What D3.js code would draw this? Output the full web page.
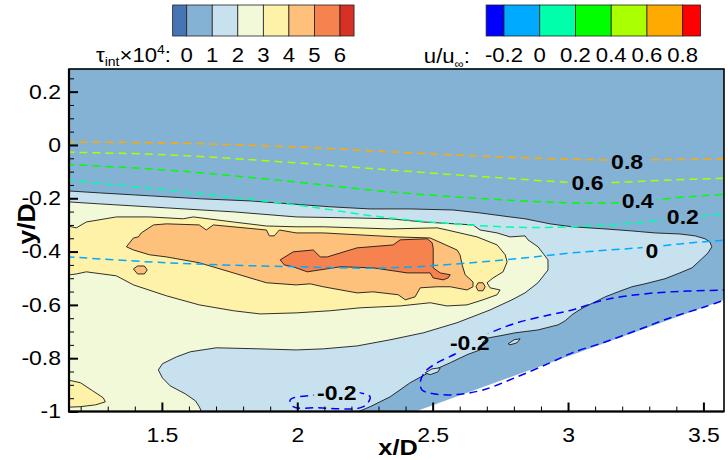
<!DOCTYPE html>
<html>
<head>
<meta charset="utf-8">
<script src="https://cdn.jsdelivr.net/npm/d3@7"></script>
<style>
body { margin: 0; background: #fff; }
svg text { font-family: "Liberation Sans", Arial, Helvetica, sans-serif; fill: #000; }
</style>
</head>
<body>
<div id="chart"></div>
<script>
// colour keys
var tauLevels = [0, 1, 2, 3, 4, 5, 6];
var tauColors = ["#4575b4", "#84b2d5", "#c8e1ef", "#f2f9d9", "#fef1a8", "#fdc17b", "#f6834f", "#d73027"];
var uLevels = [-0.2, 0, 0.2, 0.4, 0.6, 0.8];
var uColors = ["#0000ff", "#00aaff", "#00ffaa", "#00ff00", "#aaff00", "#ffaa00", "#ff0000"];

var xTicks = [1.5, 2, 2.5, 3, 3.5];
var yTicks = [-1, -0.8, -0.6, -0.4, -0.2, 0, 0.2];

// tau_int filled contours (x/D, y/D), painted low to high
var tau12 = [[1.10,-0.169],[1.273,-0.180],[1.458,-0.191],[1.642,-0.202],[1.827,-0.210],[1.974,-0.221],[2.122,-0.232],[2.269,-0.240],[2.417,-0.240],[2.576,-0.244],[2.675,-0.255],[2.786,-0.270],[2.841,-0.277],[2.934,-0.296],[3.015,-0.307],[3.137,-0.315],[3.229,-0.322],[3.321,-0.330],[3.413,-0.334],[3.469,-0.341],[3.506,-0.352],[3.524,-0.364],[3.531,-0.382],[3.517,-0.405],[3.494,-0.427],[3.458,-0.461],[3.413,-0.480],[3.358,-0.502],[3.284,-0.521],[3.236,-0.532],[3.185,-0.551],[3.137,-0.570],[3.100,-0.589],[3.063,-0.607],[3.037,-0.622],[3.015,-0.637],[2.989,-0.660],[2.963,-0.675],[2.889,-0.694],[2.804,-0.705],[2.749,-0.716],[2.705,-0.724],[2.686,-0.739],[2.675,-0.769],[2.627,-0.787],[2.565,-0.817],[2.491,-0.851],[2.417,-0.892],[2.343,-0.945],[2.269,-0.982],[2.225,-1.001],[2.196,-1.05],[1.10,-1.05]];
var tau12bubbleA = [[2.472,-0.855],[2.498,-0.840],[2.528,-0.836],[2.520,-0.851],[2.491,-0.862]];
var tau12bubbleB = [[2.779,-0.746],[2.801,-0.731],[2.823,-0.727],[2.812,-0.742],[2.786,-0.750]];
var tau23 = [[1.10,-0.210],[1.269,-0.221],[1.517,-0.236],[1.764,-0.251],[1.996,-0.270],[2.221,-0.274],[2.343,-0.277],[2.465,-0.289],[2.649,-0.300],[2.675,-0.319],[2.738,-0.330],[2.786,-0.345],[2.841,-0.341],[2.852,-0.356],[2.889,-0.382],[2.926,-0.431],[2.926,-0.469],[2.889,-0.517],[2.841,-0.555],[2.793,-0.581],[2.712,-0.619],[2.590,-0.667],[2.465,-0.705],[2.343,-0.731],[2.221,-0.754],[2.096,-0.765],[1.996,-0.769],[1.863,-0.765],[1.701,-0.761],[1.605,-0.776],[1.554,-0.795],[1.502,-0.821],[1.487,-0.844],[1.502,-0.874],[1.531,-0.904],[1.587,-0.934],[1.624,-0.960],[1.638,-0.982],[1.646,-1.0],[1.65,-1.05],[1.10,-1.05]];
var tau34 = [[1.10,-0.292],[1.184,-0.311],[1.221,-0.289],[1.332,-0.270],[1.454,-0.270],[1.579,-0.277],[1.616,-0.270],[1.764,-0.289],[1.886,-0.304],[1.996,-0.307],[2.096,-0.307],[2.343,-0.315],[2.517,-0.311],[2.553,-0.319],[2.664,-0.345],[2.738,-0.375],[2.768,-0.412],[2.775,-0.439],[2.760,-0.476],[2.723,-0.499],[2.701,-0.517],[2.712,-0.536],[2.749,-0.544],[2.738,-0.562],[2.686,-0.581],[2.627,-0.600],[2.553,-0.604],[2.491,-0.592],[2.380,-0.604],[2.232,-0.611],[2.122,-0.622],[1.996,-0.630],[1.863,-0.634],[1.764,-0.622],[1.638,-0.600],[1.517,-0.566],[1.395,-0.525],[1.332,-0.491],[1.221,-0.476],[1.184,-0.484],[1.10,-0.495]];
var tau34corner = [[1.10,-0.870],[1.199,-0.892],[1.244,-0.922],[1.284,-0.949],[1.291,-0.964],[1.255,-0.975],[1.199,-0.982],[1.10,-0.986]];
var tau45 = [[1.369,-0.382],[1.395,-0.349],[1.413,-0.345],[1.424,-0.330],[1.469,-0.300],[1.517,-0.296],[1.638,-0.300],[1.664,-0.319],[1.690,-0.300],[1.886,-0.319],[1.897,-0.341],[1.915,-0.341],[1.934,-0.319],[1.996,-0.330],[2.096,-0.330],[2.369,-0.345],[2.491,-0.349],[2.590,-0.394],[2.601,-0.412],[2.609,-0.450],[2.620,-0.487],[2.649,-0.514],[2.649,-0.532],[2.627,-0.544],[2.565,-0.532],[2.517,-0.532],[2.454,-0.536],[2.435,-0.570],[2.399,-0.581],[2.373,-0.562],[2.280,-0.551],[2.221,-0.555],[2.096,-0.532],[2.048,-0.521],[1.996,-0.525],[1.886,-0.517],[1.764,-0.480],[1.638,-0.442],[1.517,-0.420],[1.454,-0.412],[1.395,-0.394]];
var tau45blobA = [[1.395,-0.465],[1.410,-0.454],[1.435,-0.454],[1.446,-0.469],[1.435,-0.484],[1.410,-0.484]];
var tau45blobB = [[2.660,-0.532],[2.668,-0.517],[2.686,-0.517],[2.694,-0.532],[2.686,-0.547],[2.668,-0.547]];
var tau56 = [[1.937,-0.431],[1.985,-0.401],[2.059,-0.394],[2.085,-0.420],[2.111,-0.420],[2.221,-0.386],[2.354,-0.375],[2.380,-0.356],[2.480,-0.352],[2.498,-0.367],[2.502,-0.386],[2.502,-0.461],[2.528,-0.480],[2.565,-0.487],[2.557,-0.499],[2.539,-0.506],[2.502,-0.499],[2.491,-0.480],[2.406,-0.480],[2.280,-0.461],[2.159,-0.457],[2.037,-0.476],[1.985,-0.457],[1.952,-0.450]];

var tauRegions = [
  {band: 2, pts: tau12}, {band: 2, pts: tau12bubbleA}, {band: 2, pts: tau12bubbleB},
  {band: 3, pts: tau23},
  {band: 4, pts: tau34}, {band: 4, pts: tau34corner},
  {band: 5, pts: tau45}, {band: 5, pts: tau45blobA}, {band: 5, pts: tau45blobB},
  {band: 6, pts: tau56}
];

// solid wall (blank area)
var wall = [[2.30,-1.05],[3.65,-0.555],[3.65,-1.05]];

// u/u_inf iso-lines (dashed)
var uM02a = [[1.974,-0.956],[2.074,-0.937],[2.196,-0.926],[2.269,-0.945],[2.244,-0.982],[2.074,-0.986],[1.985,-0.982]];
var uM02b = [[3.60,-0.544],[3.321,-0.555],[3.137,-0.581],[3.015,-0.619],[2.934,-0.637],[2.812,-0.667],[2.712,-0.705],[2.638,-0.742],[2.590,-0.780],[2.517,-0.817],[2.472,-0.851],[2.454,-0.892],[2.461,-0.919],[2.509,-0.934],[2.583,-0.937],[2.686,-0.919],[2.812,-0.870],[2.934,-0.817],[3.015,-0.780],[3.137,-0.739],[3.258,-0.694],[3.376,-0.649],[3.506,-0.607],[3.60,-0.574]];
var u00 = [[1.10,-0.416],[1.517,-0.442],[1.996,-0.457],[2.343,-0.461],[2.768,-0.431],[3.015,-0.405],[3.310,-0.382],[3.458,-0.367],[3.60,-0.356]];
var u02 = [[1.10,-0.127],[1.517,-0.169],[1.996,-0.225],[2.343,-0.274],[2.760,-0.307],[3.015,-0.307],[3.258,-0.292],[3.424,-0.274],[3.60,-0.255]];
var u04 = [[1.10,-0.071],[1.517,-0.094],[1.996,-0.139],[2.343,-0.176],[2.760,-0.206],[3.015,-0.217],[3.255,-0.214],[3.384,-0.199],[3.60,-0.184]];
var u06 = [[1.10,-0.026],[1.517,-0.037],[1.996,-0.067],[2.343,-0.094],[2.760,-0.124],[3.074,-0.142],[3.384,-0.131],[3.60,-0.124]];
var u08 = [[1.10,0.012],[1.517,0.0075],[1.996,-0.0075],[2.343,-0.026],[2.760,-0.045],[3.137,-0.056],[3.60,-0.052]];

var uLines = [
  {level: -0.2, pts: uM02a, closed: true}, {level: -0.2, pts: uM02b},
  {level: 0, pts: u00}, {level: 0.2, pts: u02}, {level: 0.4, pts: u04},
  {level: 0.6, pts: u06}, {level: 0.8, pts: u08}
];

// contour labels: text, x/D, y/D
var uLabels = [
  ["0.8", 3.218, -0.062], ["0.6", 3.072, -0.141], ["0.4", 3.257, -0.208],
  ["0.2", 3.424, -0.268], ["0", 3.310, -0.396],
  ["-0.2", 2.637, -0.744], ["-0.2", 2.146, -0.928]
];

var SX = 1.15; // glyphs in the source are a bit wide

var svg = d3.select("#chart").append("svg")
  .attr("width", 728)
  .attr("height", 460);

var x = d3.scaleLinear().domain([1.157, 3.576]).range([69, 724]);
var y = d3.scaleLinear().domain([-1, 0.285]).range([411.5, 69]);

var defs = svg.append("defs");
defs.append("clipPath").attr("id", "clip").append("rect")
  .attr("x", 69).attr("y", 69)
  .attr("width", 655).attr("height", 342.5);

var shape = d3.line()
  .x(function(d) { return x(d[0]); })
  .y(function(d) { return y(d[1]); });

var plot = svg.append("g").attr("clip-path", "url(#clip)");

// background level (0-1)
plot.append("rect")
  .attr("x", 69).attr("y", 69)
  .attr("width", 655).attr("height", 342.5)
  .attr("fill", tauColors[1]);

tauRegions.forEach(function(r) {
  plot.append("path")
    .attr("d", shape(r.pts) + "Z")
    .attr("fill", tauColors[r.band])
    .attr("stroke", "#1a1a1a")
    .attr("stroke-width", 0.9)
    .attr("stroke-linejoin", "round");
});

plot.append("path")
  .attr("d", shape(wall) + "Z")
  .attr("fill", "#fff");

// mask that cuts the dashed lines where labels sit
var mask = defs.append("mask").attr("id", "lblmask")
  .attr("maskUnits", "userSpaceOnUse")
  .attr("x", 0).attr("y", 0).attr("width", 728).attr("height", 460);
mask.append("rect").attr("width", 728).attr("height", 460).attr("fill", "#fff");

var dashG = plot.append("g").attr("mask", "url(#lblmask)");
var openLine = d3.line().curve(d3.curveCatmullRom)
  .x(function(d) { return x(d[0]); })
  .y(function(d) { return y(d[1]); });
var closedLine = d3.line().curve(d3.curveCatmullRomClosed)
  .x(function(d) { return x(d[0]); })
  .y(function(d) { return y(d[1]); });

uLines.forEach(function(l) {
  dashG.append("path")
    .attr("d", (l.closed ? closedLine : openLine)(l.pts))
    .attr("fill", "none")
    .attr("stroke", uColors[uLevels.indexOf(l.level)])
    .attr("stroke-width", 1.5)
    .attr("stroke-dasharray", "8,5");
});

var lblG = svg.append("g");
uLabels.forEach(function(l) {
  var t = lblG.append("text")
    .attr("transform", "translate(" + x(l[1]) + "," + y(l[2]) + ") scale(" + SX + ",1)")
    .attr("text-anchor", "middle")
    .attr("dy", "0.36em")
    .attr("font-size", 20)
    .attr("font-weight", "bold")
    .text(l[0]);
  var w = t.node().getComputedTextLength() * SX + 6;
  mask.append("rect")
    .attr("x", x(l[1]) - w / 2).attr("y", y(l[2]) - 10)
    .attr("width", w).attr("height", 20)
    .attr("fill", "#000");
});

// axes, ticks pointing inwards
var xMinor = d3.range(12, 36).filter(function(i) { return i % 5 != 0; }).map(function(i) { return i / 10; });
var yMinor = d3.range(-20, 6).filter(function(i) { return i % 4 != 0; }).map(function(i) { return i * 0.05; });

svg.append("g")
  .attr("transform", "translate(0,411.5)")
  .call(d3.axisBottom(x).tickValues(xMinor).tickSize(-5).tickFormat(""))
  .call(function(g) { g.select(".domain").remove(); g.selectAll("line").attr("stroke-width", 1); });

var gx = svg.append("g")
  .attr("transform", "translate(0,411.5)")
  .call(d3.axisBottom(x).tickValues(xTicks).tickSize(-9).tickPadding(16)
    .tickFormat(function(d) { return String(d); }));
gx.select(".domain").remove();
gx.selectAll("line").attr("stroke-width", 2);
gx.selectAll("text").attr("font-size", 20).attr("fill", "#000")
  .attr("transform", "scale(" + SX + ",1)");

svg.append("g")
  .attr("transform", "translate(69,0)")
  .call(d3.axisLeft(y).tickValues(yMinor).tickSize(-5).tickFormat(""))
  .call(function(g) { g.select(".domain").remove(); g.selectAll("line").attr("stroke-width", 1); });

var gy = svg.append("g")
  .attr("transform", "translate(69,0)")
  .call(d3.axisLeft(y).tickValues(yTicks).tickSize(-9).tickPadding(9)
    .tickFormat(function(d) { return String(d); }));
gy.select(".domain").remove();
gy.selectAll("line").attr("stroke-width", 2);
gy.selectAll("text").attr("font-size", 20).attr("fill", "#000")
  .attr("x", -8 / SX)
  .attr("transform", "scale(" + SX + ",1)");

// frame
svg.append("rect")
  .attr("x", 69).attr("y", 69)
  .attr("width", 655).attr("height", 342.5)
  .attr("fill", "none")
  .attr("stroke", "#000")
  .attr("stroke-width", 1.6);
svg.append("path")
  .attr("d", "M69,69V411.5H724")
  .attr("fill", "none").attr("stroke", "#000").attr("stroke-width", 2.2);

// axis titles
svg.append("text")
  .attr("transform", "translate(398,455) scale(" + SX + ",1)")
  .attr("text-anchor", "middle")
  .attr("font-size", 22)
  .attr("font-weight", "bold")
  .text("x/D");
svg.append("text")
  .attr("transform", "translate(35,224) rotate(-90) scale(" + SX + ",1)")
  .attr("text-anchor", "middle")
  .attr("font-size", 23)
  .attr("font-weight", "bold")
  .text("y/D");

// colour legends
var LX = 1.08;
function legend(levels, colors, x0, x1, endFrac) {
  var step = (levels[levels.length - 1] - levels[0]) / (levels.length - 1);
  var k = d3.scaleLinear().domain([levels[0], levels[levels.length - 1]]).range([x0, x1]);
  var edges = [levels[0] - endFrac * step].concat(levels, [levels[levels.length - 1] + endFrac * step]);
  var g = svg.append("g");
  colors.forEach(function(c, i) {
    g.append("rect")
      .attr("x", k(edges[i])).attr("y", 5)
      .attr("width", k(edges[i + 1]) - k(edges[i])).attr("height", 31)
      .attr("fill", c)
      .attr("stroke", "#222").attr("stroke-width", 0.8);
  });
  levels.forEach(function(v) {
    g.append("text")
      .attr("transform", "translate(" + k(v) + ",62) scale(" + LX + ",1)")
      .attr("text-anchor", "middle")
      .attr("font-size", 20.5)
      .text(String(v));
  });
}
legend(tauLevels, tauColors, 186.7, 340, 0.55);
legend(uLevels, uColors, 504, 682.7, 0.5);

var t1 = svg.append("text")
  .attr("transform", "translate(171,62) scale(" + LX + ",1)")
  .attr("text-anchor", "end")
  .attr("font-size", 20.5);
t1.append("tspan").text("\u03c4");
t1.append("tspan").attr("font-size", 13).attr("dy", 4).text("int");
t1.append("tspan").attr("dy", -4).text("\u00d710");
t1.append("tspan").attr("font-size", 13).attr("dy", -8).text("4");
t1.append("tspan").attr("dy", 8).text(":");

var t2 = svg.append("text")
  .attr("transform", "translate(470,63) scale(" + LX + ",1)")
  .attr("text-anchor", "end")
  .attr("font-size", 20.5);
t2.append("tspan").text("u/u");
t2.append("tspan").attr("font-size", 12).attr("dy", 5).text("\u221e");
t2.append("tspan").attr("dy", -5).text(":");
</script>
</body>
</html>
